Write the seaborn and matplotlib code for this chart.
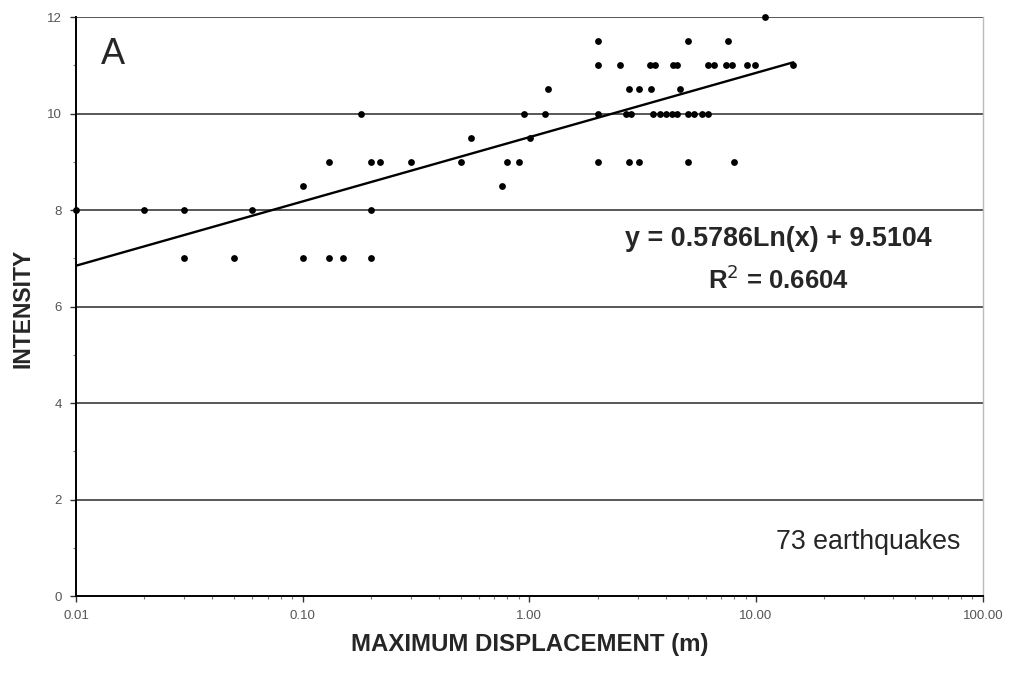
import numpy as np
import pandas as pd
import matplotlib
matplotlib.use("Agg")
import matplotlib.pyplot as plt
import matplotlib.ticker as mticker
import seaborn as sns

# ---- data ----
disp_7 = [0.03, 0.05, 0.10, 0.13, 0.15, 0.20]
disp_8 = [0.01, 0.02, 0.03, 0.06, 0.20]
disp_8_5 = [0.10, 0.76]
disp_9 = [0.13, 0.20, 0.22, 0.30, 0.50, 0.80, 0.90, 2.0, 2.74, 3.04, 5.0, 8.0]
disp_9_5 = [0.55, 1.01]
disp_10 = [0.18, 0.95, 1.17, 2.0, 2.68, 2.82, 3.5, 3.75, 4.0, 4.25, 4.5, 5.0,
           5.35, 5.75, 6.15]
disp_10_5 = [1.21, 2.74, 3.04, 3.45, 4.6]
disp_11 = [2.0, 2.5, 3.4, 3.6, 4.3, 4.5, 6.15, 6.5, 7.4, 7.8, 9.1, 9.9, 14.6]
disp_11_5 = [2.0, 5.0, 7.5]
disp_12 = [11.0]

levels = [7, 8, 8.5, 9, 9.5, 10, 10.5, 11, 11.5, 12]
groups = [disp_7, disp_8, disp_8_5, disp_9, disp_9_5, disp_10, disp_10_5,
          disp_11, disp_11_5, disp_12]

fit_slope = 0.5786
fit_intercept = 9.5104
fit_r2 = 0.6604
n_quakes = 73

x_ticks = [0.01, 0.1, 1, 10, 100]
x_tick_labels = ["0.01", "0.10", "1.00", "10.00", "100.00"]
y_ticks = [0, 2, 4, 6, 8, 10, 12]

df = pd.DataFrame({
    "disp": [d for g in groups for d in g],
    "intensity": [lv for lv, g in zip(levels, groups) for _ in g],
})

# trend line from the stated fit, spanning the data range
xs = np.logspace(np.log10(df["disp"].min()), np.log10(df["disp"].max()), 100)
trend = pd.DataFrame({"x": xs, "y": fit_slope * np.log(xs) + fit_intercept})

# ---- plot ----
sns.set_theme(style="white")
plt.rcParams["font.family"] = ["Liberation Sans", "DejaVu Sans"]

fig = plt.figure(figsize=(10.09, 6.73), dpi=100)
ax = fig.add_axes([0.0753, 0.1144, 0.974 - 0.0753, 0.9747 - 0.1144])

for y in y_ticks[1:]:
    ax.axhline(y, color="#4a4a4a", lw=1.3, zorder=1)

sns.lineplot(data=trend, x="x", y="y", ax=ax, color="black", lw=1.7,
             zorder=3)
sns.scatterplot(data=df, x="disp", y="intensity", ax=ax, color="black",
                s=24, edgecolor="black", linewidth=0, zorder=4, clip_on=False)

ax.set_xscale("log")
ax.set_xlim(0.01, 100)
ax.set_ylim(0, 12)
ax.set_xticks(x_ticks)
ax.set_xticklabels(x_tick_labels)
ax.set_yticks(y_ticks)
ax.set_yticklabels([str(v) for v in y_ticks])
ax.xaxis.set_minor_locator(mticker.LogLocator(base=10, subs=np.arange(2, 10)))
ax.xaxis.set_minor_formatter(mticker.NullFormatter())
ax.yaxis.set_minor_locator(mticker.MultipleLocator(1))

ax.tick_params(axis="both", which="major", direction="out", length=4,
               width=1, color="#333333", labelsize=9.5, labelcolor="#555555",
               bottom=True, left=True, pad=6)
ax.tick_params(axis="both", which="minor", direction="out", length=2.5,
               width=0.8, color="#777777", bottom=True, left=True)

for side in ["left", "bottom"]:
    ax.spines[side].set_color("black")
    ax.spines[side].set_linewidth(1.4)
ax.spines["top"].set_visible(False)
ax.spines["right"].set_color("#bbbbbb")
ax.spines["right"].set_linewidth(1.0)

ax.set_xlabel("MAXIMUM DISPLACEMENT (m)", fontsize=17.3, fontweight="bold",
              labelpad=8)
ax.set_ylabel("INTENSITY", fontsize=16.5, fontweight="bold")
ax.yaxis.set_label_coords(-0.046, 0.497)

ax.text(0.028, 0.965, "A", transform=ax.transAxes, fontsize=26,
        ha="left", va="top")
ax.text(0.775, 0.617, f"y = {fit_slope}Ln(x) + {fit_intercept}",
        transform=ax.transAxes, fontsize=19.4, fontweight="bold",
        ha="center", va="center")
ax.text(0.775, 0.547, f"R$^2$ = {fit_r2:.4f}", transform=ax.transAxes,
        fontsize=18.5, fontweight="bold", ha="center", va="center")
ax.text(0.975, 0.093, f"{n_quakes} earthquakes", transform=ax.transAxes,
        fontsize=19.3, ha="right", va="center")

fig.savefig("out.png", dpi=100)
